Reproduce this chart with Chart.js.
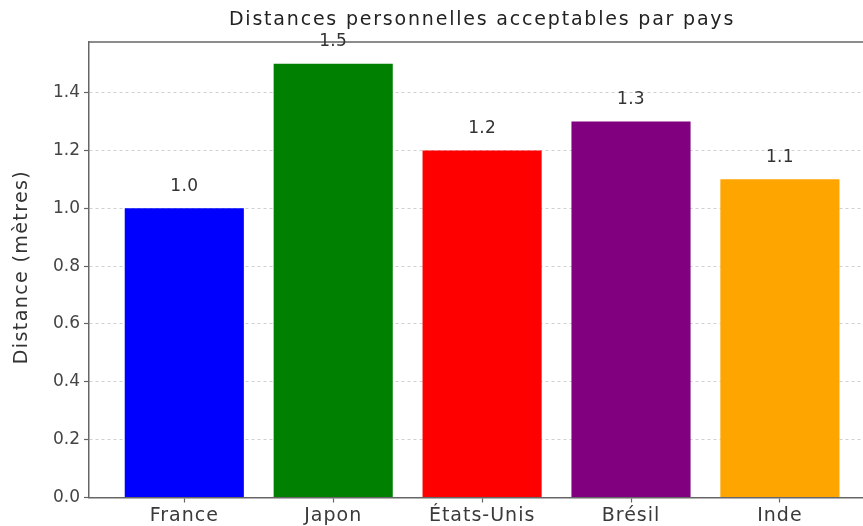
<!DOCTYPE html>
<html>
<head>
<meta charset="utf-8">
<script src="https://cdn.jsdelivr.net/npm/chart.js@4.4.0/dist/chart.umd.min.js"></script>
<style>
html,body{margin:0;padding:0;background:#fff;overflow:hidden;}
#wrap{width:863px;height:526px;position:relative;}
</style>
</head>
<body>
<div id="wrap"><canvas id="c" width="863" height="526"></canvas></div>
<script>
const categories = ["France", "Japon", "États-Unis", "Brésil", "Inde"];
const distances = [1.0, 1.5, 1.2, 1.3, 1.1];
const barColors = ["#0000ff", "#008000", "#ff0000", "#800080", "#ffa500"];
const yTicks = [0.0, 0.2, 0.4, 0.6, 0.8, 1.0, 1.2, 1.4];
const chartTitle = "Distances personnelles acceptables par pays";
const yTitle = "Distance (mètres)";

const FONT = "DejaVu Sans";
const spineColor = "#666";

function spaced(ctx, px) { if ("letterSpacing" in ctx) ctx.letterSpacing = px + "px"; }

const overlay = {
  id: "overlay",
  afterDatasetsDraw(chart) {
    const ctx = chart.ctx;
    const a = chart.chartArea;
    ctx.save();
    ctx.strokeStyle = spineColor;
    ctx.lineWidth = 1.5;
    ctx.beginPath();
    ctx.moveTo(a.left, a.top);
    ctx.lineTo(a.right, a.top);
    ctx.stroke();
    ctx.textAlign = "center";
    ctx.textBaseline = "middle";
    // value labels
    ctx.fillStyle = "#333";
    ctx.font = "17px '" + FONT + "'";
    spaced(ctx, 0.3);
    const meta = chart.getDatasetMeta(0);
    meta.data.forEach((bar, i) => {
      ctx.fillText(distances[i].toFixed(1), bar.x, bar.y - 22);
    });
    // x category labels
    const xs = chart.scales.x;
    ctx.fillStyle = "#3a3a3a";
    ctx.font = "19px '" + FONT + "'";
    spaced(ctx, 1);
    categories.forEach((c, i) => {
      ctx.fillText(c, xs.getPixelForValue(i), 516);
    });
    // title
    ctx.fillStyle = "#222";
    ctx.font = "19px '" + FONT + "'";
    spaced(ctx, 1.8);
    ctx.fillText(chartTitle, 482, 20);
    // y title
    ctx.translate(22, 267);
    ctx.rotate(-Math.PI / 2);
    ctx.fillStyle = "#333";
    ctx.font = "19px '" + FONT + "'";
    spaced(ctx, 1.4);
    ctx.fillText(yTitle, 0, 0);
    ctx.restore();
  }
};

new Chart(document.getElementById("c"), {
  type: "bar",
  data: {
    datasets: [{
      data: distances.map((v, i) => ({ x: i, y: v })),
      backgroundColor: barColors,
      borderWidth: 0,
      categoryPercentage: 0.8,
      barPercentage: 1.0
    }]
  },
  options: {
    responsive: false,
    animation: false,
    layout: { padding: { top: 42, left: 0, right: 0, bottom: 0 } },
    plugins: {
      legend: { display: false },
      tooltip: { enabled: false },
      title: { display: false }
    },
    scales: {
      x: {
        type: "linear",
        offset: false,
        min: -0.64,
        max: 4.558,
        afterBuildTicks: (s) => { s.ticks = categories.map((_, i) => ({ value: i })); },
        afterFit: (s) => { s.height = 28.5; },
        ticks: {
          display: false
        },
        grid: {
          offset: false,
          drawOnChartArea: false,
          drawTicks: true,
          tickLength: 5,
          tickColor: spineColor,
          tickWidth: 1.2
        },
        border: { display: true, color: spineColor, width: 1.5 }
      },
      y: {
        min: 0,
        max: 1.575,
        afterBuildTicks: (s) => { s.ticks = yTicks.map(v => ({ value: v })); },
        afterFit: (s) => { s.width = 89; },
        ticks: {
          callback: (v) => Number(v).toFixed(1),
          color: "#444",
          font: { family: FONT, size: 17 },
          padding: 4
        },
        grid: {
          color: "#d0d0d0",
          lineWidth: 1,
          drawTicks: true,
          tickLength: 5,
          tickColor: spineColor,
          tickWidth: 1.2,
          tickBorderDash: []
        },
        border: { display: true, color: spineColor, width: 1.5, dash: [3, 3] }
      }
    }
  },
  plugins: [overlay]
});
</script>
</body>
</html>
